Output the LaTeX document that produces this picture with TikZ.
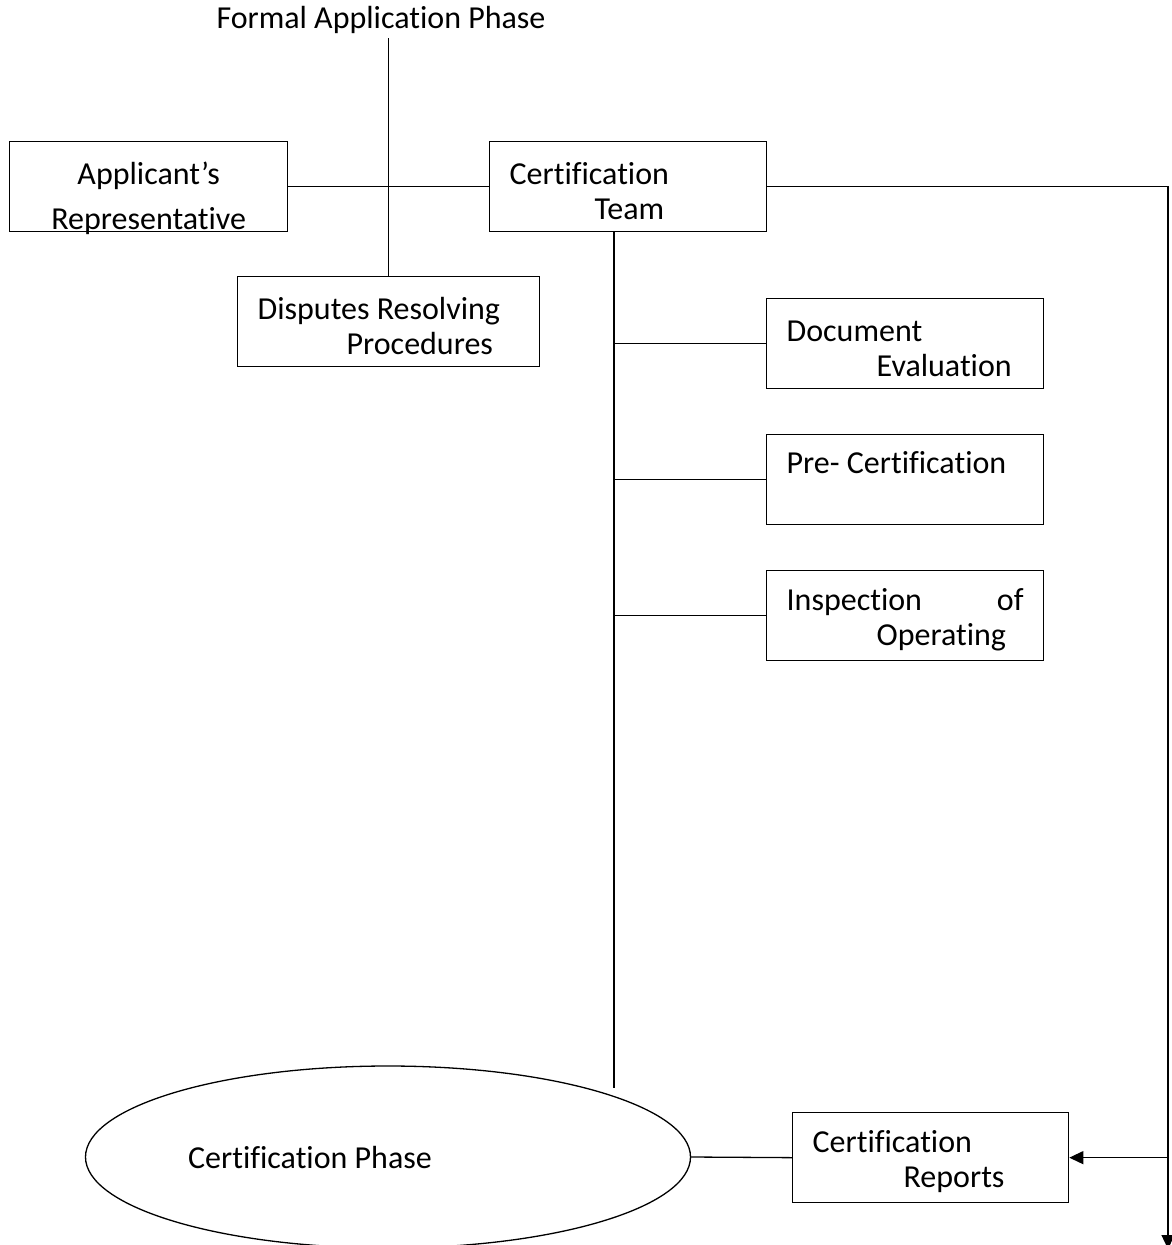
\documentclass[tikz,border=0pt]{standalone}
\usepackage{fontspec}
\setmainfont{Carlito}[Ligatures=CommonOff]
\usetikzlibrary{arrows.meta,shapes.geometric}

\begin{document}
\begin{tikzpicture}[
  x=1pt, y=-1pt,
  font=\fontsize{32}{35}\selectfont,
  line width=1.3pt,
  box/.style={draw, line width=1.3pt, anchor=north west, minimum height=90pt,
    inner xsep=20pt, inner ysep=0pt, text width=237pt, align=flush left},
  phasebox/.style={draw, ellipse, line width=1.3pt, minimum width=605pt,
    minimum height=182pt, inner sep=0pt},
  link/.style={line width=1.3pt},
  flow/.style={line width=1.3pt, -{Triangle[length=14pt,width=13pt]}}
]
\useasboundingbox (0,0) rectangle (1171,1245);

% ---------- formal application phase ----------
\node (title) at (381,20) {Formal Application Phase};

\node[box, align=center, text width=238pt] (applicant) at (9,141)
  {\rule{0pt}{40pt}Applicant’s\\[10pt]\smash{Representative}};
\node[box] (team) at (489,141)
  {\rule{0pt}{30pt}Certification\\\hspace*{85pt}Team};
\node[box, text width=262pt] (disputes) at (237,276)
  {\rule{0pt}{30pt}Disputes Resolving\\\hspace*{89pt}Procedures};

\draw[link] (disputes.north) -- (disputes.north |- title.south);
\draw[link] (applicant.east) -- (team.west);

% ---------- team tasks ----------
\node[box] (doceval) at (766,298)
  {\rule{0pt}{30pt}Document\\\hspace*{90pt}Evaluation};
\node[box] (precert) at (766,434)
  {Pre- Certification\\\mbox{}};
\node[box] (inspect) at (766,570)
  {\rule{0pt}{30pt}Inspection\hfill of\\\hspace*{90pt}Operating};

\coordinate (trunk) at (614,1088);
\draw[link] (trunk |- team.south) -- (trunk);
\draw[link] (trunk |- doceval.west) -- (doceval.west);
\draw[link] (trunk |- precert.west) -- (precert.west);
\draw[link] (trunk |- inspect.west) -- (inspect.west);

% ---------- certification phase ----------
\node[phasebox] (phase) at (388,1157) {};
\node at ([xshift=-78pt]phase.center) {Certification Phase};

\node[box, text width=236pt] (reports) at (792,1112)
  {\rule{0pt}{30pt}Certification\\\hspace*{91pt}Reports};

\draw[link] (phase.east) -- (reports.west);

% right rail
\coordinate (rail) at (1168,1249);
\draw[flow] (team.east) -| (rail);
\draw[flow] (rail |- reports.east) -- (reports.east);
\end{tikzpicture}
\end{document}
